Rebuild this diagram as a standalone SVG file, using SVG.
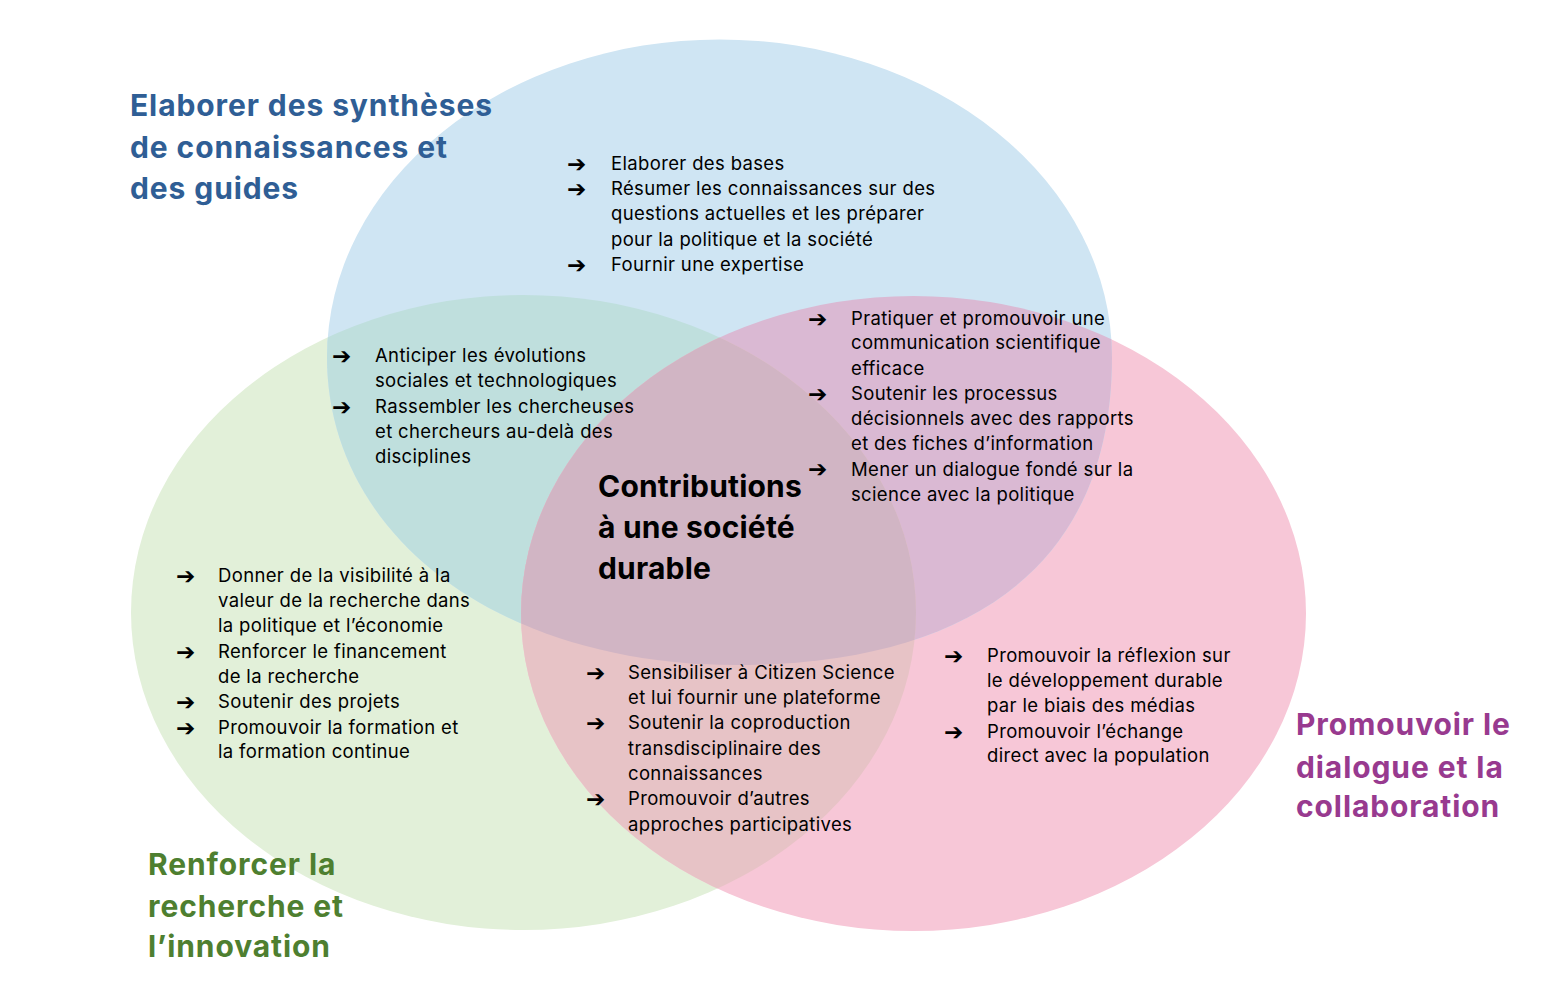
<svg xmlns="http://www.w3.org/2000/svg" width="1556" height="1004" viewBox="0 0 1556 1004">
<style>
.t{font-family:Inter,"Liberation Sans",sans-serif;font-size:18.5px;letter-spacing:0.35px;fill:#000}
.a{font-family:"DejaVu Sans",sans-serif;font-size:23px;font-weight:700;fill:#000}
.h{font-family:Inter,"Liberation Sans",sans-serif;font-size:30px;font-weight:700;letter-spacing:0.9px}
.hb{fill:#2F5E95}.hg{fill:#4E7F30}.hp{fill:#983A8F}.hk{fill:#000;letter-spacing:0.2px}
</style>
<defs>
<path id="blueShape" d="M327,357 A392.5,317.5 0 0 1 1112,357 C1112,572.6 961.2,665 735,665 C498.4,665 327,535.6 327,357 Z"/>
<clipPath id="cBlue"><use href="#blueShape"/></clipPath>
<clipPath id="cGreen"><ellipse cx="523.5" cy="612.5" rx="392.5" ry="317.5"/></clipPath>
</defs>
<rect width="1556" height="1004" fill="#fff"/>
<g id="sets">
<g id="set-green"><ellipse cx="523.5" cy="612.5" rx="392.5" ry="317.5" fill="#E2F0D9"/></g>
<g id="set-pink"><ellipse cx="913.5" cy="613.5" rx="392.5" ry="317.5" fill="#F7C7D7"/></g>
<g id="set-blue"><use href="#blueShape" fill="#CFE5F3"/></g>
<g id="overlap-blue-green" clip-path="url(#cBlue)"><ellipse cx="523.5" cy="612.5" rx="392.5" ry="317.5" fill="#BFDFDD"/></g>
<g id="overlap-blue-pink" clip-path="url(#cBlue)"><ellipse cx="913.5" cy="613.5" rx="392.5" ry="317.5" fill="#DAB9D3"/></g>
<g id="overlap-green-pink" clip-path="url(#cGreen)"><ellipse cx="913.5" cy="613.5" rx="392.5" ry="317.5" fill="#E7C3C6"/></g>
<g id="overlap-all" clip-path="url(#cBlue)"><g clip-path="url(#cGreen)"><ellipse cx="913.5" cy="613.5" rx="392.5" ry="317.5" fill="#D1B5C4"/></g></g>
</g>
<g id="connectors"></g>
<g id="title-blue"><text class="h hb"><tspan x="130" y="116">Elaborer des synthèses</tspan><tspan x="130" y="158">de connaissances et</tspan><tspan x="130" y="199">des guides</tspan></text></g>
<g id="title-green"><text class="h hg"><tspan x="148" y="875">Renforcer la</tspan><tspan x="148" y="917">recherche et</tspan><tspan x="148" y="957">l’innovation</tspan></text></g>
<g id="title-pink"><text class="h hp"><tspan x="1296" y="735">Promouvoir le</tspan><tspan x="1296" y="778">dialogue et la</tspan><tspan x="1296" y="817">collaboration</tspan></text></g>
<g id="title-center"><text class="h hk"><tspan x="598" y="497">Contributions</tspan><tspan x="598" y="538">à une société</tspan><tspan x="598" y="579">durable</tspan></text></g>
<g id="list-blue">
<text class="a" x="567" y="172">➔</text><text class="a" x="567" y="197">➔</text><text class="a" x="567" y="273">➔</text>
<text class="t"><tspan x="611" y="170">Elaborer des bases</tspan><tspan x="611" y="195">Résumer les connaissances sur des</tspan><tspan x="611" y="220">questions actuelles et les préparer</tspan><tspan x="611" y="246">pour la politique et la société</tspan><tspan x="611" y="271">Fournir une expertise</tspan></text>
</g>
<g id="list-blue-green">
<text class="a" x="332" y="364">➔</text><text class="a" x="332" y="415">➔</text>
<text class="t"><tspan x="375" y="362">Anticiper les évolutions</tspan><tspan x="375" y="387">sociales et technologiques</tspan><tspan x="375" y="413">Rassembler les chercheuses</tspan><tspan x="375" y="438">et chercheurs au-delà des</tspan><tspan x="375" y="463">disciplines</tspan></text>
</g>
<g id="list-blue-pink">
<text class="a" x="808" y="327">➔</text><text class="a" x="808" y="402">➔</text><text class="a" x="808" y="477">➔</text>
<text class="t"><tspan x="851" y="325">Pratiquer et promouvoir une</tspan><tspan x="851" y="349">communication scientifique</tspan><tspan x="851" y="375">efficace</tspan><tspan x="851" y="400">Soutenir les processus</tspan><tspan x="851" y="425">décisionnels avec des rapports</tspan><tspan x="851" y="450">et des fiches d’information</tspan><tspan x="851" y="476">Mener un dialogue fondé sur la</tspan><tspan x="851" y="501">science avec la politique</tspan></text>
</g>
<g id="list-green">
<text class="a" x="176" y="584">➔</text><text class="a" x="176" y="660">➔</text><text class="a" x="176" y="710">➔</text><text class="a" x="176" y="736">➔</text>
<text class="t"><tspan x="218" y="582">Donner de la visibilité à la</tspan><tspan x="218" y="607">valeur de la recherche dans</tspan><tspan x="218" y="632">la politique et l’économie</tspan><tspan x="218" y="658">Renforcer le financement</tspan><tspan x="218" y="683">de la recherche</tspan><tspan x="218" y="708">Soutenir des projets</tspan><tspan x="218" y="734">Promouvoir la formation et</tspan><tspan x="218" y="758">la formation continue</tspan></text>
</g>
<g id="list-green-pink">
<text class="a" x="586" y="681">➔</text><text class="a" x="586" y="731">➔</text><text class="a" x="586" y="807">➔</text>
<text class="t"><tspan x="628" y="679">Sensibiliser à Citizen Science</tspan><tspan x="628" y="704">et lui fournir une plateforme</tspan><tspan x="628" y="729">Soutenir la coproduction</tspan><tspan x="628" y="755">transdisciplinaire des</tspan><tspan x="628" y="780">connaissances</tspan><tspan x="628" y="805">Promouvoir d’autres</tspan><tspan x="628" y="831">approches participatives</tspan></text>
</g>
<g id="list-pink">
<text class="a" x="944" y="664">➔</text><text class="a" x="944" y="740">➔</text>
<text class="t"><tspan x="987" y="662">Promouvoir la réflexion sur</tspan><tspan x="987" y="687">le développement durable</tspan><tspan x="987" y="712">par le biais des médias</tspan><tspan x="987" y="738">Promouvoir l’échange</tspan><tspan x="987" y="762">direct avec la population</tspan></text>
</g>
</svg>
